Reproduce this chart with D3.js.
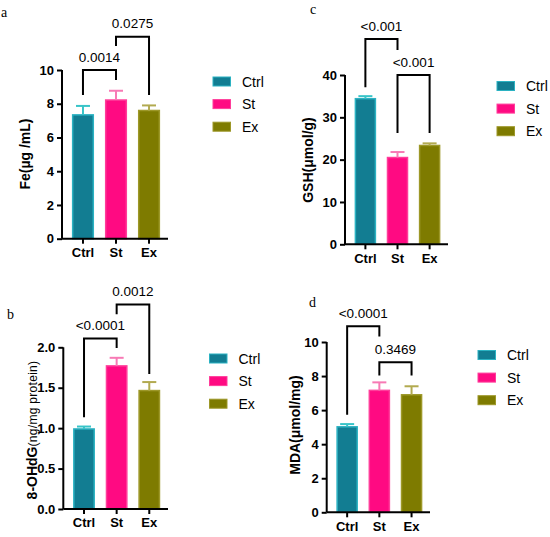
<!DOCTYPE html>
<html><head><meta charset="utf-8">
<script src="https://cdn.jsdelivr.net/npm/d3@7"></script>
<style>body{margin:0;background:#fff}svg{display:block}</style>
</head><body>
<svg id="c" width="550" height="537"></svg>
<script>
// ---- data ----
const categories = ["Ctrl", "St", "Ex"];
const feMean = [7.34, 8.22, 7.6];
const feErr  = [0.53, 0.55, 0.3];
const gshMean = [34.4, 20.5, 23.35];
const gshErr  = [0.6, 1.3, 0.5];
const ohdgMean = [0.99, 1.77, 1.465];
const ohdgErr  = [0.03, 0.1, 0.105];
const mdaMean = [5.02, 7.16, 6.9];
const mdaErr  = [0.16, 0.47, 0.5];
const feTicks = [0, 2, 4, 6, 8, 10];
const gshTicks = [0, 10, 20, 30, 40];
const ohdgTicks = [0, 0.5, 1.0, 1.5, 2.0];
const mdaTicks = [0, 2, 4, 6, 8, 10];
// significance: [from, to, label]
const feSig = [["Ctrl", "St", "0.0014"], ["St", "Ex", "0.0275"]];
const gshSig = [["Ctrl", "St", "<0.001"], ["St", "Ex", "<0.001"]];
const ohdgSig = [["Ctrl", "St", "<0.0001"], ["St", "Ex", "0.0012"]];
const mdaSig = [["Ctrl", "St", "<0.0001"], ["St", "Ex", "0.3469"]];

// ---- styles ----
const fills = ["#127d92", "#ff0a82", "#7e7b00"];
const strokes = ["#2bb2c2", "#ff3d9a", "#9d9828"];
const errCols = ["#38c4c8", "#f77ab5", "#b2aa50"];
const SANS = "'Liberation Sans', Arial, sans-serif";
const SERIF = "'Liberation Serif', 'Times New Roman', serif";

const svg = d3.select("#c");

function panel(o) {
  const g = svg.append("g");
  const x = d3.scaleBand().domain(categories).range([o.x0, o.x1]).paddingInner(0.33).paddingOuter(0.3);
  const y = d3.scaleLinear().domain([0, o.max]).range([o.yb, o.yt]);
  const bw = x.bandwidth();

  // bars
  g.selectAll("rect.bar").data(categories).join("rect")
    .attr("x", d => x(d) + 0.75).attr("width", bw - 1.5)
    .attr("y", (d, i) => y(o.mean[i])).attr("height", (d, i) => y(0) - y(o.mean[i]))
    .attr("fill", (d, i) => fills[i]).attr("stroke", (d, i) => strokes[i]).attr("stroke-width", 1.5);
  // error bars
  categories.forEach((d, i) => {
    const cx = x(d) + bw / 2;
    const top = y(o.mean[i] + o.err[i]);
    g.append("line").attr("x1", cx).attr("x2", cx).attr("y1", y(o.mean[i])).attr("y2", top)
      .attr("stroke", errCols[i]).attr("stroke-width", 2);
    g.append("line").attr("x1", cx - 7).attr("x2", cx + 7).attr("y1", top).attr("y2", top)
      .attr("stroke", errCols[i]).attr("stroke-width", 2);
  });

  // axes
  const ya = g.append("g").attr("transform", `translate(${o.x0},0)`)
    .call(d3.axisLeft(y).tickValues(o.ticks).tickSize(5).tickPadding(3).tickFormat(o.fmt));
  const xa = g.append("g").attr("transform", `translate(0,${o.yb})`)
    .call(d3.axisBottom(x).tickSize(5).tickPadding(4).tickSizeOuter(0));
  [ya, xa].forEach(a => {
    a.selectAll("path,line").attr("stroke", "#000").attr("stroke-width", 2);
    a.selectAll("text").attr("font-family", SANS)
      .attr("font-size", 13).attr("font-weight", "bold").attr("fill", "#000");
  });
  ya.select("path").attr("d", `M0,${o.yb}V${o.yt}`);
  xa.select("path").attr("d", `M${o.x0},0H${o.x1 - 2}`);

  // brackets
  o.sig.forEach((s, k) => {
    const b = o.brk[k];
    const xa1 = x(s[0]) + bw / 2, xb1 = x(s[1]) + bw / 2;
    g.append("path")
      .attr("d", `M${xa1},${y(b[1])}V${y(b[0])}H${xb1}V${y(b[2])}`)
      .attr("fill", "none").attr("stroke", "#000").attr("stroke-width", 2);
    g.append("text").attr("x", (xa1 + xb1) / 2).attr("y", y(b[0]) - 8.5)
      .attr("text-anchor", "middle").attr("font-family", SANS)
      .attr("font-size", 13.5).attr("fill", "#000").text(s[2]);
  });

  // y label
  const yl = g.append("text").attr("transform", `translate(${o.lx},${o.ly}) rotate(-90)`)
    .attr("text-anchor", "middle").attr("font-family", SANS)
    .attr("font-size", 14).attr("font-weight", "bold").attr("fill", "#000");
  if (o.label2) {
    yl.append("tspan").text(o.label);
    yl.append("tspan").attr("font-weight", "normal").attr("font-family", SANS)
      .attr("font-size", 12).attr("letter-spacing", 0.3).text(o.label2);
  } else yl.text(o.label);

  // legend
  categories.forEach((d, i) => {
    const ly = o.legY + i * 22.6;
    g.append("rect").attr("x", o.legX).attr("y", ly - 4.5).attr("width", 17.5).attr("height", 9)
      .attr("fill", fills[i]).attr("stroke", strokes[i]).attr("stroke-width", 1);
    g.append("text").attr("x", o.legX + 29).attr("y", ly + 5).attr("font-family", SANS)
      .attr("font-size", 14).attr("fill", "#000").text(d);
  });

  // panel letter
  g.append("text").attr("x", o.px).attr("y", o.py).attr("font-family", SERIF)
    .attr("font-size", 14).attr("fill", "#000").text(o.letter);
}

panel({x0: 62, x1: 170, yt: 70, yb: 238.7, max: 10, ticks: feTicks, fmt: d3.format("d"),
  mean: feMean, err: feErr, sig: feSig, brk: [[10, 8.52, 9.4], [11.97, 11.42, 8.52]],
  label: "Fe(µg /mL)", lx: 30, ly: 154, legX: 213, legY: 81.5, letter: "a", px: 1, py: 17});
panel({x0: 345, x1: 450, yt: 75, yb: 244.3, max: 40, ticks: gshTicks, fmt: d3.format("d"),
  mean: gshMean, err: gshErr, sig: gshSig, brk: [[48.5, 37.1, 45.9], [40, 26.3, 26.3]],
  label: "GSH(μmol/g)", lx: 313, ly: 160, legX: 497, legY: 86, letter: "c", px: 310, py: 14});
panel({x0: 63.3, x1: 170, yt: 347.3, yb: 509, max: 2, ticks: ohdgTicks, fmt: d3.format(".1f"),
  mean: ohdgMean, err: ohdgErr, sig: ohdgSig, brk: [[2.108, 1.135, 1.99], [2.53, 2.41, 1.67]],
  label: "8-OHdG", label2: "(ng/mg protein)", lx: 37, ly: 430, legX: 209.5, legY: 358.5, letter: "b", px: 7, py: 319});
panel({x0: 326.7, x1: 432, yt: 342, yb: 512.3, max: 10, ticks: mdaTicks, fmt: d3.format("d"),
  mean: mdaMean, err: mdaErr, sig: mdaSig, brk: [[10.92, 5.73, 10.33], [8.81, 8.04, 8.04]],
  label: "MDA(μmol/mg)", lx: 300, ly: 425, legX: 478, legY: 355, letter: "d", px: 309, py: 307});
</script>
</body></html>
